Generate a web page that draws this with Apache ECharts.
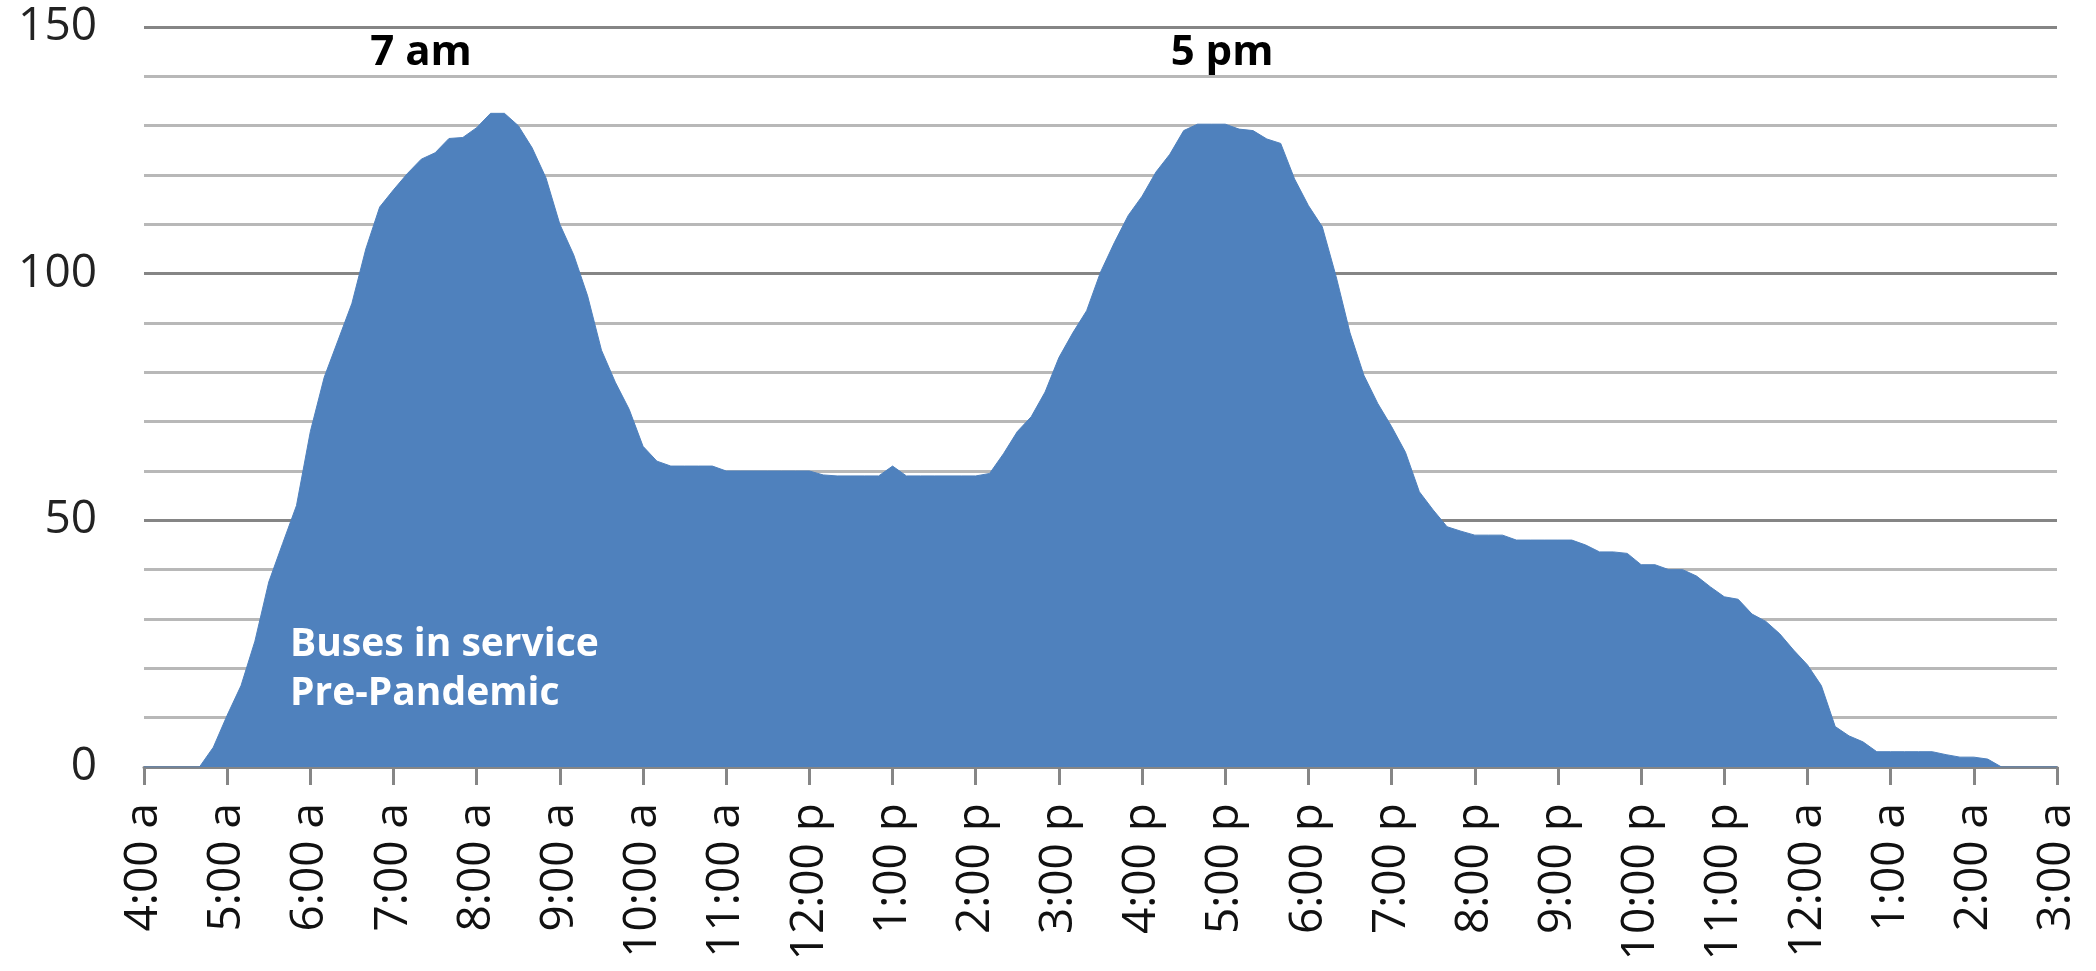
<!DOCTYPE html>
<html>
<head>
<meta charset="utf-8">
<script src="https://cdn.jsdelivr.net/npm/echarts@6/dist/echarts.min.js"></script>
<style>
html,body{margin:0;padding:0;background:#fff;}
#chart{width:2096px;height:971px;}
</style>
</head>
<body>
<div id="chart"></div>
<script>
// Hour tick labels (4:00 a through 3:00 a)
const hourLabels = ["4:00 a","5:00 a","6:00 a","7:00 a","8:00 a","9:00 a","10:00 a","11:00 a","12:00 p","1:00 p","2:00 p","3:00 p","4:00 p","5:00 p","6:00 p","7:00 p","8:00 p","9:00 p","10:00 p","11:00 p","12:00 a","1:00 a","2:00 a","3:00 a"];
const minuteSteps = ["00","10","20","30","40","50"];
// Buses in service, every 10 minutes from 4:00 a to 3:00 a (one row per hour)
const busesInService = [
  0,0,0,0,0,4,
  10.5,16.5,25.5,37.5,45.3,53,
  68,79,86.5,94,105,113.5,
  117,120.3,123.2,124.5,127.4,127.6,
  129.6,132.5,132.5,130,125.5,119.4,
  110,103.8,95.5,84.5,78,72.5,
  65,62,61,61,61,61,
  60,60,60,60,60,60,
  60,59.2,59,59,59,59,
  61,59,59,59,59,59,
  59,59.5,63.5,68,71,76,
  83,88,92.5,100.3,106.3,111.8,
  115.7,120.6,124.2,129,130.3,130.3,
  130.3,129.3,129,127.3,126.4,119.2,
  113.8,109.5,99.4,88,79.4,73.7,
  69,63.8,55.8,52.1,48.7,47.8,
  47,47,47,46,46,46,
  46,46,45,43.6,43.6,43.3,
  41,41,40,40,38.7,36.5,
  34.5,34,31,29.5,27,23.7,
  20.7,16.5,8.2,6.3,5.1,3.1,
  3.1,3.1,3.1,3.1,2.5,2,
  2,1.6,0,0,0,0,
  0
];
const annotations = [
  {text: "7 am", x: 421, y: 53},
  {text: "5 pm", x: 1222, y: 53}
];
const seriesNote = ["Buses in service", "Pre-Pandemic"];

const categories = [];
hourLabels.forEach((h, i) => {
  if (i === hourLabels.length - 1) { categories.push(h); return; }
  const parts = h.split(" ");
  const hh = parts[0].split(":")[0];
  minuteSteps.forEach(m => categories.push(hh + ":" + m + " " + parts[1]));
});

const FONT = "'Open Sans', 'Noto Sans', sans-serif";
const chart = echarts.init(document.getElementById('chart'), null, {renderer: 'canvas'});
const graphics = annotations.map(a => ({
  type: 'text', x: a.x, y: a.y, z: 100,
  style: {text: a.text, fill: '#000', font: 'bold 42px ' + FONT, textAlign: 'center', textVerticalAlign: 'middle'}
}));
seriesNote.forEach((t, i) => {
  graphics.push({
    type: 'text', x: 290, y: 645 + i * 49, z: 100,
    style: {text: t, fill: '#fff', font: 'bold 39px ' + FONT, textAlign: 'left', textVerticalAlign: 'middle'}
  });
});

chart.setOption({
  animation: false,
  backgroundColor: '#fff',
  grid: {left: 144, right: 39, top: 27, bottom: 204, containLabel: false},
  xAxis: {
    type: 'category',
    data: categories,
    boundaryGap: false,
    axisLine: {show: true, lineStyle: {color: '#868686', width: 3}},
    axisTick: {show: true, interval: 5, length: 18, lineStyle: {color: '#868686', width: 3}},
    axisLabel: {interval: 5, rotate: 90, margin: 36, color: '#111', fontFamily: FONT, fontSize: 46},
    splitLine: {show: false}
  },
  yAxis: {
    type: 'value',
    min: 0, max: 150, interval: 50,
    axisLine: {show: false},
    axisTick: {show: false},
    axisLabel: {margin: 47, color: '#222', fontFamily: FONT, fontSize: 46},
    splitLine: {show: true, lineStyle: {color: '#858585', width: 3}},
    minorTick: {show: false, splitNumber: 5},
    minorSplitLine: {show: true, lineStyle: {color: '#B8B8B8', width: 3}}
  },
  series: [{
    type: 'line',
    data: busesInService,
    symbol: 'none',
    showSymbol: false,
    lineStyle: {width: 1, color: '#4F81BD'},
    areaStyle: {color: '#4F81BD', opacity: 1},
    z: 5
  }],
  graphic: graphics
});
</script>
</body>
</html>
